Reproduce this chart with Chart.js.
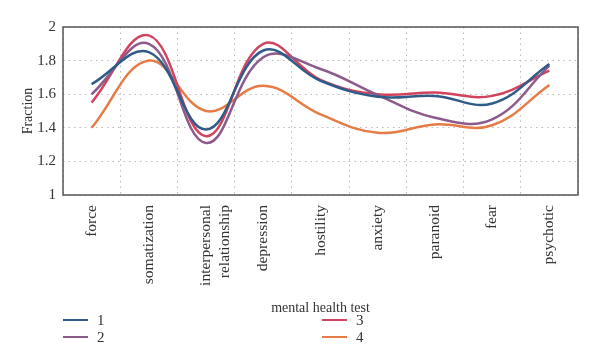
<!DOCTYPE html>
<html>
<head>
<meta charset="utf-8">
<script src="https://cdn.jsdelivr.net/npm/chart.js@4"></script>
<style>
  body { margin: 0; background: #fff; }
  #wrap { position: relative; width: 600px; height: 362px; }
  #legend { position: absolute; left: 0; top: 0; width: 600px; height: 362px; pointer-events: none;
    font-family: "Liberation Serif", serif; font-size: 15px; color: #333; }
  .item { position: absolute; display: flex; align-items: center; }
  .swatch { width: 25px; height: 2.5px; margin-right: 9px; }
</style>
</head>
<body>
<div id="wrap">
  <canvas id="LineChart"></canvas>
  <div id="legend"></div>
</div>
<script>
const categories = ["force", "somatization", ["interpersonal", "relationship"], "depression",
  "hostility", "anxiety", "paranoid", "fear", "psychotic"];
const series1 = [1.66, 1.85, 1.39, 1.86, 1.68, 1.585, 1.59, 1.545, 1.78];
const series2 = [1.60, 1.90, 1.31, 1.82, 1.75, 1.595, 1.46, 1.45, 1.77];
const series3 = [1.55, 1.95, 1.35, 1.90, 1.685, 1.60, 1.61, 1.59, 1.74];
const series4 = [1.40, 1.80, 1.50, 1.65, 1.48, 1.37, 1.42, 1.415, 1.655];
const seriesNames = ["1", "2", "3", "4"];
const colors = ["#2E5B87", "#8C5A8B", "#D2435E", "#E77B45"];

const font = "'Liberation Serif', serif";

const data = {
  labels: categories,
  datasets: [series1, series2, series3, series4].map((vals, i) => ({
    label: seriesNames[i],
    data: vals,
    borderColor: colors[i],
    backgroundColor: colors[i],
    borderWidth: 2.5,
    pointRadius: 0,
    tension: 0.4,
    fill: false,
  })),
};

// frame round the plot area
const frame = {
  id: "frame",
  afterDraw(chart) {
    const { ctx, chartArea: a } = chart;
    ctx.save();
    ctx.strokeStyle = "#555";
    ctx.lineWidth = 1.5;
    ctx.strokeRect(a.left, a.top, a.right - a.left, a.bottom - a.top);
    ctx.restore();
  },
};

const config = {
  type: "line",
  data,
  plugins: [frame],
  options: {
    responsive: true,
    maintainAspectRatio: false,
    animation: false,
    layout: { padding: { top: 27, right: 22, left: 0, bottom: 45 } },
    plugins: { legend: { display: false }, tooltip: { enabled: false } },
    scales: {
      x: {
        offset: true,
        grid: { offset: true, color: "#bbb", lineWidth: 1, drawTicks: false },
        border: { display: false, dash: [1.5, 4] },
        ticks: { color: "#333", font: { family: font, size: 15.5 }, minRotation: 90, maxRotation: 90, padding: 10, autoSkip: false },
        title: { display: true, text: "mental health test", color: "#333", font: { family: font, size: 14 }, padding: 0 },
        afterFit(scale) { scale.height = 122; },
      },
      y: {
        min: 1,
        max: 2,
        grid: { color: "#bbb", lineWidth: 1, drawTicks: false },
        border: { display: false, dash: [1.5, 4] },
        ticks: {
          stepSize: 0.2, color: "#333", font: { family: font, size: 15 }, padding: 7,
          callback: (v) => String(Number(v.toFixed(1))),
        },
        title: { display: true, text: "Fraction", color: "#333", font: { family: font, size: 14 }, padding: { top: 20, bottom: 0 } },
        afterFit(scale) { scale.width = 63; },
      },
    },
  },
};

const LineChart = new Chart(document.getElementById("LineChart"), config);

// legend in two columns: 1,2 left and 3,4 right
const legendPos = [[63, 320], [63, 337], [322, 320], [322, 337]];
const legend = document.getElementById("legend");
LineChart.data.datasets.forEach((ds, i) => {
  const item = document.createElement("div");
  item.className = "item";
  item.style.left = legendPos[i][0] + "px";
  item.style.top = (legendPos[i][1] - 10) + "px";
  item.style.height = "20px";
  item.innerHTML = '<span class="swatch" style="background:' + ds.borderColor + '"></span><span>' + ds.label + "</span>";
  legend.appendChild(item);
});
</script>
</body>
</html>
